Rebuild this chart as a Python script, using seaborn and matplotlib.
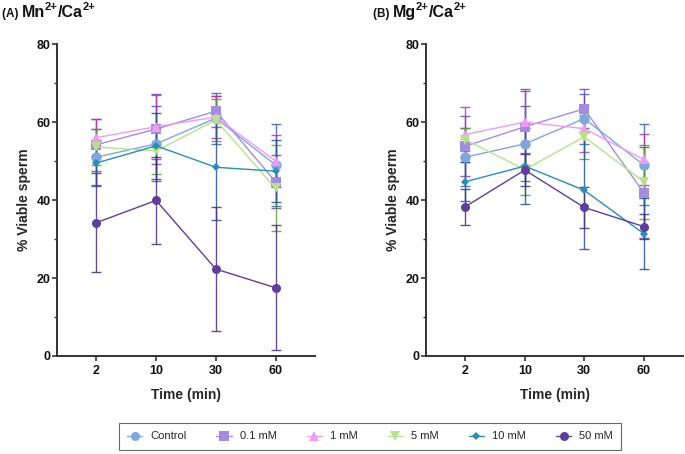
import numpy as np
import pandas as pd
import matplotlib
matplotlib.use("Agg")
import matplotlib.pyplot as plt
from matplotlib.ticker import MultipleLocator
from matplotlib.lines import Line2D
import seaborn as sns

sns.set_theme(style="ticks")
plt.rcParams["font.family"] = ["Liberation Sans", "DejaVu Sans"]

times = ["2", "10", "30", "60"]
groups = ["Control", "0.1 mM", "1 mM", "5 mM", "10 mM", "50 mM"]

# Panel A: Mn2+/Ca2+
mn_control = [51.0, 54.4, 61.0, 49.0]
mn_01 = [54.2, 58.2, 62.8, 44.7]
mn_1 = [56.0, 58.8, 61.3, 50.0]
mn_5 = [53.6, 52.6, 60.5, 43.0]
mn_10 = [49.5, 53.9, 48.4, 47.4]
mn_50 = [34.2, 39.9, 22.3, 17.5]
mn_control_err = [7.2, 9.6, 6.5, 10.5]
mn_01_err = [6.7, 9.0, 4.0, 6.8]
mn_1_err = [4.8, 8.2, 5.3, 6.6]
mn_5_err = [4.6, 6.0, 5.4, 11.0]
mn_10_err = [6.0, 8.4, 13.5, 8.0]
mn_50_err = [12.7, 11.1, 16.0, 16.0]

# Panel B: Mg2+/Ca2+
mg_control = [51.0, 54.4, 60.9, 49.0]
mg_01 = [53.8, 58.8, 63.4, 41.9]
mg_1 = [56.8, 60.0, 58.3, 50.4]
mg_5 = [55.5, 47.8, 56.2, 44.7]
mg_10 = [44.7, 48.7, 42.5, 31.4]
mg_50 = [38.3, 47.7, 38.1, 33.2]
mg_control_err = [7.5, 9.6, 6.4, 10.4]
mg_01_err = [7.7, 9.8, 5.0, 11.7]
mg_1_err = [7.0, 8.0, 6.0, 6.6]
mg_5_err = [3.0, 6.5, 5.7, 9.5]
mg_10_err = [5.0, 9.7, 15.0, 9.0]
mg_50_err = [4.6, 4.0, 5.3, 3.3]

colors = ["#7fa7dc", "#a48ddc", "#ef9bef", "#b9e08c", "#2b8db3", "#5f3f9a"]
err_colors = ["#3a64ae", "#6a4bb0", "#b43aa4", "#5a9c35", "#24538e", "#48307a"]
markers = ["o", "s", "^", "v", "D", "o"]
msizes = [7.5, 7.5, 7.5, 7.5, 4.5, 6.5]

panels = [
    ("(A)", "Mn", [mn_control, mn_01, mn_1, mn_5, mn_10, mn_50],
     [mn_control_err, mn_01_err, mn_1_err, mn_5_err, mn_10_err, mn_50_err]),
    ("(B)", "Mg", [mg_control, mg_01, mg_1, mg_5, mg_10, mg_50],
     [mg_control_err, mg_01_err, mg_1_err, mg_5_err, mg_10_err, mg_50_err]),
]

W, H = 685, 454
fig = plt.figure(figsize=(W / 100, H / 100), dpi=100)
renderer = fig.canvas.get_renderer()
ax_rects = [[0.0832, 0.2159, 0.3766, 0.687], [0.622, 0.2159, 0.375, 0.687]]
title_x = [2, 373]
spine_col = "#333333"


def title_pieces(x0, base_y, pieces):
    x = x0
    for s, size, dy in pieces:
        t = fig.text(x / W, (base_y + dy) / H, s, fontsize=size,
                     fontweight="bold", va="baseline", ha="left", color="#111111")
        bb = t.get_window_extent(renderer)
        x = bb.x1


for (tag, ion, vals, errs), rect, tx in zip(panels, ax_rects, title_x):
    ax = fig.add_axes(rect)
    rows = []
    for g, v, e in zip(groups, vals, errs):
        for i, (t, y, er) in enumerate(zip(times, v, e)):
            rows.append({"group": g, "pos": i, "time": t, "val": y, "err": er})
    df = pd.DataFrame(rows)
    for gi, g in enumerate(groups):
        sub = df[df["group"] == g]
        ax.errorbar(sub["pos"], sub["val"], yerr=sub["err"], fmt="none",
                    ecolor=err_colors[gi], elinewidth=1.0, capsize=3.5,
                    capthick=1.0, alpha=0.85, zorder=2)
    n_before = len(ax.get_lines())
    sns.lineplot(data=df, x="pos", y="val", hue="group", style="group",
                 hue_order=groups, style_order=groups,
                 palette=dict(zip(groups, colors)),
                 markers=dict(zip(groups, markers)), dashes=False,
                 linewidth=1.0, markeredgewidth=0, ax=ax, legend=False,
                 zorder=3)
    for line, ms in zip(ax.get_lines()[n_before:], msizes):
        line.set_markersize(ms)
    ax.set_xlim(-0.66, 3.66)
    ax.set_ylim(0, 80)
    ax.set_xticks(range(len(times)))
    ax.set_xticklabels(times)
    ax.yaxis.set_major_locator(MultipleLocator(20))
    ax.yaxis.set_minor_locator(MultipleLocator(10))
    for s in ["top", "right"]:
        ax.spines[s].set_visible(False)
    for s in ["left", "bottom"]:
        ax.spines[s].set_color(spine_col)
        ax.spines[s].set_linewidth(1.4)
    ax.tick_params(axis="both", which="major", length=3.5, width=1.2,
                   color=spine_col, labelsize=9)
    ax.tick_params(axis="y", which="major", pad=1)
    ax.tick_params(axis="x", which="major", pad=3)
    ax.tick_params(axis="y", which="minor", length=2.5, width=1.0, color=spine_col)
    for lab in ax.get_xticklabels() + ax.get_yticklabels():
        lab.set_fontweight("bold")
        lab.set_color("#111111")
    ax.set_xlabel("Time (min)", fontsize=10, fontweight="bold", labelpad=8)
    ax.set_ylabel("% Viable sperm", fontsize=10, fontweight="bold", labelpad=4)
    title_pieces(tx, H - 17, [(tag + " ", 8.5, 0), (ion, 11.5, 0), ("2+", 8, 6.5),
                              ("/Ca", 11.5, 0), ("2+", 8, 6.5)])

handles = [Line2D([0], [0], color=c, marker=m, markersize=6.5 if m != "D" else 4.5,
                  markeredgewidth=0, linewidth=1.0)
           for c, m in zip(colors, markers)]
leg = fig.legend(handles, groups, loc="center", bbox_to_anchor=(0.540, 0.0386),
                 ncol=6, frameon=True, fontsize=8, handlelength=1.4,
                 columnspacing=2.7, handletextpad=0.7, borderpad=0.75,
                 fancybox=False)
leg.get_frame().set_edgecolor("#444444")
leg.get_frame().set_linewidth(0.8)

fig.savefig("out.png", dpi=100)
